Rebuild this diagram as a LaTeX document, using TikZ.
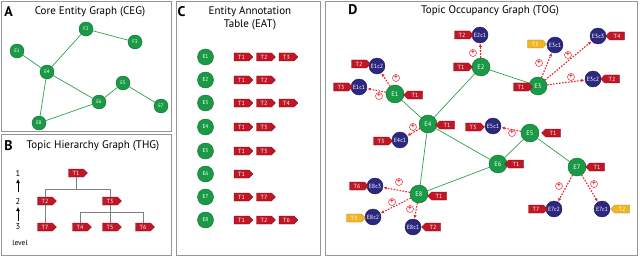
\documentclass[tikz,border=0pt]{standalone}
\usepackage{fontspec}
\setmainfont{PT Sans}
\usetikzlibrary{shapes.symbols,arrows.meta}
\definecolor{panelgray}{RGB}{150,150,150}
\definecolor{entgreen}{RGB}{26,154,70}
\definecolor{entdark}{RGB}{10,110,45}
\definecolor{edgegreen}{RGB}{40,165,75}
\definecolor{clublue}{RGB}{44,40,128}
\definecolor{tagred}{RGB}{192,22,38}
\definecolor{tagdark}{RGB}{120,10,20}
\definecolor{tagyellow}{RGB}{240,180,36}
\definecolor{occred}{RGB}{235,30,40}
\tikzset{
 panel/.style={draw=panelgray, line width=0.9pt},
 ptitle/.style={font=\fontsize{11}{12}\selectfont, inner sep=0},
 pletter/.style={font=\fontsize{14}{14}\selectfont\bfseries, inner sep=0},
 ent/.style={circle, fill=entgreen, draw=entdark, line width=0.4pt, text=white, inner sep=0, minimum size=14pt, font=\fontsize{5}{5}\selectfont},
 entC/.style={ent, minimum size=16pt, font=\fontsize{5.5}{5.5}\selectfont},
 entD/.style={ent, minimum size=18pt, font=\fontsize{6.5}{6.5}\selectfont},
 clu/.style={circle, fill=clublue, draw=clublue!70!black, line width=0.4pt, text=white, inner sep=0, minimum size=16pt, font=\fontsize{6}{6}\selectfont},
 tagR/.style={signal, signal to=east, fill=tagred, draw=tagdark, line width=0.3pt, text=white, minimum width=19pt, minimum height=8pt, inner sep=0.4pt, font=\fontsize{6}{6}\selectfont},
 tagL/.style={tagR, signal to=west},
 ytagR/.style={tagR, fill=tagyellow, draw=tagyellow!70!black},
 ytagL/.style={tagL, fill=tagyellow, draw=tagyellow!70!black},
 cedge/.style={draw=edgegreen, line width=0.7pt},
 treeline/.style={draw=gray, line width=0.6pt},
 occ/.style={draw=occred, line width=1.1pt, dash pattern=on 1.6pt off 1.4pt, -{Latex[length=3.2pt,width=3.2pt]}, shorten >=0.5pt},
 pluslab/.style={circle, draw=occred, text=occred, line width=0.5pt, inner sep=0, minimum size=7pt, font=\fontsize{7}{7}\selectfont\bfseries},
 lvl/.style={font=\fontsize{8.5}{9}\selectfont, inner sep=0},
 lvlarrow/.style={line width=0.9pt, -{Latex[length=4pt,width=4pt]}}
}
\begin{document}
\begin{tikzpicture}[x=1pt,y=-1pt]
\useasboundingbox (0,0) rectangle (640,262);
% panels
\draw[panel] (1,1) rectangle (171,131);
\draw[panel] (1,134) rectangle (171,255);
\draw[panel] (176,1) rectangle (320,255);
\draw[panel] (325,1) rectangle (637,255);
% ---------- A ----------
\node[pletter] (la) at (8.5,12) {A};
\node[ptitle] (ta) at (90,12) {Core Entity Graph (CEG)};
\node[ent] (a1) at (17,51) {E1};
\node[ent] (a2) at (86,29) {F2};
\node[ent] (a3) at (135,42) {F3};
\node[ent] (a4) at (47,72) {E4};
\node[ent] (a5) at (123,83) {E5};
\node[ent] (a6) at (99,102) {E6};
\node[ent] (a7) at (161,106) {E7};
\node[ent] (a8) at (39,123) {E8};
\foreach \u/\v in {a1/a4,a4/a2,a2/a3,a4/a6,a4/a8,a8/a6,a6/a5,a5/a7}
  \draw[cedge] (\u) -- (\v);
% ---------- B ----------
\node[pletter] (lb) at (8.5,146) {B};
\node[ptitle] (tb) at (93,146) {Topic Hierarchy Graph (THG)};
\node[lvl] (l1) at (18,173) {1};
\node[lvl] (l2) at (18,201) {2};
\node[lvl] (l3) at (18,227) {3};
\node[lvl, font=\fontsize{7.5}{8}\selectfont] (lv) at (20,243) {level};
\coordinate (ar1a) at (18,192); \coordinate (ar1b) at (18,179);
\coordinate (ar2a) at (18,221); \coordinate (ar2b) at (18,207);
\draw[lvlarrow] (ar1a) -- (ar1b);
\draw[lvlarrow] (ar2a) -- (ar2b);
\node[tagR] (b1) at (76,173) {T1};
\node[tagR] (b2) at (45,201) {T2};
\node[tagR] (b3) at (110,201) {T3};
\node[tagR] (b7) at (45,227) {T7};
\node[tagR] (b4) at (80,227) {T4};
\node[tagR] (b5) at (110,227) {T5};
\node[tagR] (b6) at (143,227) {T6};
\coordinate (h1) at (76,189);
\coordinate (h2) at (110,212);
\draw[treeline] (b1.south) -- (h1) -| (b2.north);
\draw[treeline] (h1) -| (b3.north);
\draw[treeline] (b2.south) -- (b7.north);
\draw[treeline] (b3.south) -- (b5.north);
\draw[treeline] (h2) -| (b4.north);
\draw[treeline] (h2) -| (b6.north);
% ---------- C ----------
\node[pletter] (lc) at (181.5,12) {C};
\node[ptitle, align=center, font=\fontsize{11}{13}\selectfont] (tc) at (250,18.5) {Entity Annotation\\Table (EAT)};
\foreach \i/\y/\tags in {1/57/{T1,T2,T3},2/80/{T1,T2},3/103/{T1,T2,T4},4/127/{T1,T3},5/151/{T1,T3},6/174/{T1},7/197/{T1,T7},8/220/{T1,T2,T6}}{
  \node[entC] (c\i) at (205.5,\y) {E\i};
  \foreach \t [count=\k] in \tags {
    \node[tagR] (c\i t\k) at ({241.5+22.5*(\k-1)},\y) {\t};
  }
}
% ---------- D ----------
\node[pletter] (ld) at (353,10) {D};
\node[ptitle] (td) at (490,11) {Topic Occupancy Graph (TOG)};
% entity nodes
\node[entD] (d1) at (395,94) {E1};
\node[entD] (d2) at (481,67) {E2};
\node[entD] (d3) at (538,86) {E3};
\node[entD] (d4) at (428,124) {E4};
\node[entD] (d5) at (530,133) {E5};
\node[entD] (d6) at (498,164) {E6};
\node[entD] (d7) at (577,167) {E7};
\node[entD] (d8) at (419,194) {E8};
\foreach \u/\v in {d1/d4,d4/d2,d2/d3,d4/d6,d4/d8,d8/d6,d6/d5,d5/d7}
  \draw[cedge] (\u) -- (\v);
% cluster nodes
\node[clu] (e1c2) at (377,66) {E1c2};
\node[clu] (e1c1) at (359,87) {E1c1};
\node[clu] (e2c1) at (480,35) {E2c1};
\node[clu] (e3c1) at (555,45) {E3c1};
\node[clu] (e3c3) at (598,36) {E3c3};
\node[clu] (e3c2) at (593,79) {E3c2};
\node[clu] (e4c1) at (400,140) {E4c1};
\node[clu] (e5c1) at (493,126) {E5c1};
\node[clu] (e8c3) at (375,186) {E8c3};
\node[clu] (e8c2) at (373,217) {E8c2};
\node[clu] (e8c1) at (413,227) {E8c1};
\node[clu] (e7c2) at (554,209) {E7c2};
\node[clu] (e7c1) at (602,209) {E7c1};
% occupancy arrows
\foreach \u/\v in {d1/e1c2,d1/e1c1,d2/e2c1,d3/e3c1,d3/e3c3,d3/e3c2,d4/e4c1,d5/e5c1,d8/e8c3,d8/e8c2,d8/e8c1,d7/e7c2,d7/e7c1}
  \draw[occ] (\u) -- (\v);
% plus labels
\foreach \n/\x/\y in {p1/396/78,p2/379/96,p3/473/53,p4/539/63,p5/568/55,p6/571/77,p7/413/127,p8/512/133,p9/399/182,p10/392/202,p11/410/209,p12/559/186,p13/594/184}
  \node[pluslab] (\n) at (\x,\y) {+};
% tags in D
\node[tagL] (t1) at (415,95) {T1};
\node[tagR] (t2) at (359,64) {T2};
\node[tagR] (t3) at (341,87) {T3};
\node[tagR] (t4) at (461,67) {T1};
\node[tagR] (t5) at (462,35) {T2};
\node[tagR] (t6) at (521,87) {T1};
\node[ytagR] (t7) at (535,44) {T3};
\node[tagL] (t8) at (617,36) {T4};
\node[tagL] (t9) at (612,79) {T2};
\node[tagL] (t10) at (447,125) {T1};
\node[tagR] (t11) at (381,141) {T3};
\node[tagR] (t12) at (473,127) {T3};
\node[tagL] (t13) at (553,133) {T1};
\node[tagL] (t14) at (516,164) {T1};
\node[tagL] (t15) at (597,167) {T1};
\node[tagR] (t16) at (536,209) {T7};
\node[ytagL] (t17) at (622,209) {T2};
\node[tagL] (t18) at (439,196) {T1};
\node[tagR] (t19) at (357,186) {T6};
\node[ytagR] (t20) at (354,218) {T3};
\node[tagL] (t21) at (433,227) {T2};
\end{tikzpicture}
\end{document}
